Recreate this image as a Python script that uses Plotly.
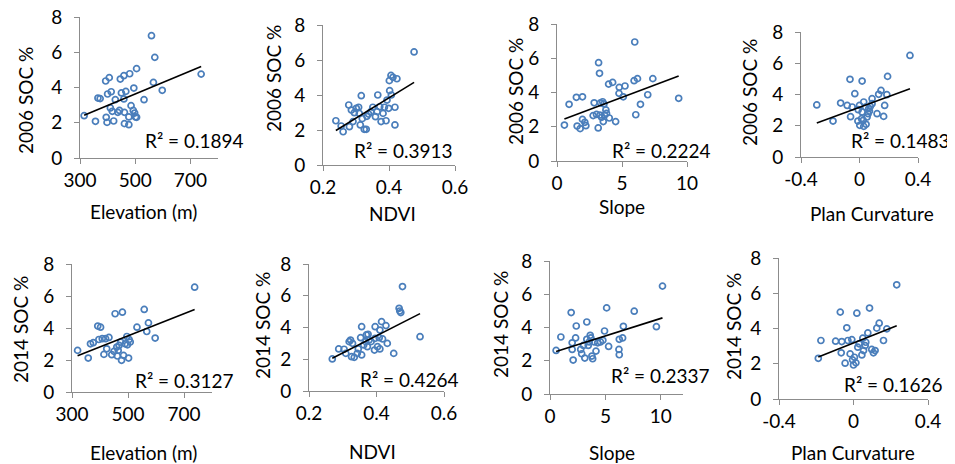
import numpy as np
import plotly.graph_objects as go

# ---- data ----
elev_2006 = [315, 356, 365, 373, 393, 406, 395, 398, 400, 413, 410, 417, 422, 428, 437, 443,
             446, 459, 450, 466, 459, 461, 461, 477, 477, 480, 485, 493, 495, 498, 501, 505,
             505, 532, 559, 566, 571, 598, 739]
soc06_elev = [2.40, 2.08, 3.40, 3.37, 4.37, 4.56, 2.31, 2.02, 3.63, 3.76, 2.84, 2.65, 2.10, 3.31,
              2.59, 2.70, 4.48, 4.67, 3.69, 3.78, 3.35, 2.59, 1.95, 2.33, 1.89, 4.78, 2.97, 2.70,
              3.97, 2.55, 2.33, 5.07, 2.31, 3.31, 6.94, 4.29, 5.71, 3.84, 4.76]

ndvi_2006 = [0.239, 0.255, 0.261, 0.278, 0.280, 0.286, 0.291, 0.295, 0.301, 0.308, 0.310, 0.313,
             0.316, 0.319, 0.325, 0.331, 0.333, 0.338, 0.345, 0.351, 0.359, 0.364, 0.366, 0.372,
             0.376, 0.382, 0.386, 0.391, 0.394, 0.399, 0.402, 0.401, 0.406, 0.412, 0.407, 0.418,
             0.418, 0.424, 0.476]
soc06_ndvi = [2.53, 2.23, 1.90, 3.43, 2.19, 3.14, 2.48, 2.99, 3.24, 3.30, 2.95, 2.29, 3.96, 2.65,
              2.04, 2.04, 2.78, 2.91, 3.05, 3.30, 2.76, 3.05, 4.00, 3.33, 2.48, 2.95, 3.30, 2.53,
              3.71, 3.24, 4.25, 4.82, 5.12, 5.01, 4.00, 3.30, 2.29, 4.93, 6.46]

slope_2006 = [0.57, 0.93, 1.49, 1.55, 1.78, 1.96, 1.96, 2.14, 2.22, 2.78, 2.86, 3.04, 3.17, 3.20,
              3.27, 3.30, 3.35, 3.43, 3.51, 3.56, 3.61, 3.66, 3.76, 3.81, 4.02, 3.97, 4.28, 4.51,
              4.77, 4.79, 5.10, 5.23, 5.93, 5.98, 6.06, 6.19, 6.42, 6.98, 7.37, 9.36]
soc06_slope = [2.10, 3.31, 3.72, 2.04, 1.89, 3.75, 2.43, 2.26, 2.06, 2.65, 3.40, 2.72, 1.93, 5.74,
               5.12, 2.68, 3.40, 2.55, 3.46, 2.30, 3.33, 2.68, 2.98, 2.78, 2.51, 4.49, 4.59, 2.30,
               3.95, 4.30, 3.75, 4.38, 4.69, 6.95, 2.70, 4.81, 3.31, 3.87, 4.81, 3.66]

curv_2006 = [-0.292, -0.181, -0.129, -0.084, -0.065, -0.061, -0.050, -0.032, -0.009, 0.000,
             -0.011, 0.002, 0.018, 0.018, 0.025, 0.029, 0.045, 0.052, 0.059, 0.063, 0.068, 0.074,
             0.086, 0.086, 0.120, 0.131, 0.147, 0.165, 0.172, 0.187, 0.192, 0.345, 0.041, 0.029,
             0.014]
soc06_curv = [3.33, 2.30, 3.45, 3.30, 4.97, 2.58, 3.20, 4.05, 3.03, 3.30, 2.30, 2.03, 4.86, 2.88,
              2.35, 1.96, 2.09, 2.56, 2.77, 3.09, 2.94, 3.24, 3.41, 3.73, 2.77, 4.01, 4.26, 2.60,
              3.30, 3.99, 5.16, 6.50, 3.20, 3.52, 2.45]

elev_2014 = [320, 358, 366, 376, 392, 402, 396, 408, 414, 420, 424, 432, 442, 450, 454, 460, 462,
             465, 468, 477, 480, 484, 490, 496, 498, 502, 504, 508, 532, 558, 567, 573, 597, 738,
             474]
soc14_elev = [2.60, 2.12, 3.01, 3.08, 4.12, 4.05, 3.28, 3.33, 2.35, 3.33, 2.70, 3.41, 2.33, 2.54,
              4.89, 2.81, 2.25, 2.60, 2.91, 1.98, 4.99, 2.29, 3.01, 3.47, 2.95, 2.12, 3.28, 3.12,
              4.05, 5.16, 3.78, 4.32, 3.37, 6.55, 3.12]

ndvi_2014 = [0.269, 0.288, 0.304, 0.309, 0.319, 0.323, 0.326, 0.329, 0.334, 0.343, 0.346, 0.353,
             0.356, 0.356, 0.362, 0.368, 0.370, 0.375, 0.373, 0.378, 0.384, 0.394, 0.396, 0.403,
             0.408, 0.410, 0.410, 0.415, 0.418, 0.428, 0.432, 0.451, 0.467, 0.469, 0.472, 0.477,
             0.529, 0.396]
soc14_ndvi = [2.02, 2.65, 2.63, 2.37, 3.11, 3.21, 2.16, 3.00, 2.12, 2.37, 2.65, 3.36, 4.05, 2.27,
              2.90, 3.11, 3.53, 3.57, 2.79, 3.21, 3.11, 2.58, 4.05, 2.79, 3.36, 2.65, 3.84, 4.37,
              3.28, 4.12, 3.00, 2.37, 5.21, 5.04, 4.94, 6.58, 3.42, 3.32]

slope_2014 = [0.55, 0.98, 1.91, 2.00, 2.00, 2.09, 2.31, 2.37, 2.77, 2.86, 3.02, 3.14, 3.32, 3.32,
              3.45, 3.54, 3.63, 3.69, 3.78, 3.85, 4.15, 4.31, 4.55, 4.77, 4.92, 5.11, 5.29, 6.22,
              6.25, 6.25, 6.55, 6.62, 7.60, 9.60, 10.15, 4.00]
soc14_slope = [2.62, 3.43, 4.90, 3.08, 2.68, 2.04, 3.37, 4.09, 2.68, 2.42, 2.92, 2.16, 4.33, 3.29,
               2.92, 3.13, 3.53, 3.37, 2.28, 2.12, 2.58, 3.08, 3.13, 3.23, 3.79, 5.18, 2.86, 2.68,
               2.36, 3.29, 3.37, 4.07, 4.98, 4.05, 6.49, 3.13]

curv_2014 = [-0.189, -0.175, -0.096, -0.071, -0.066, -0.063, -0.045, -0.036, -0.030, -0.018,
             -0.009, -0.005, 0.000, 0.005, 0.013, 0.018, 0.023, 0.030, 0.045, 0.050, 0.054, 0.063,
             0.066, 0.077, 0.086, 0.098, 0.107, 0.125, 0.138, 0.161, 0.179, 0.232, 0.116]
soc14_curv = [2.31, 3.32, 3.28, 4.93, 2.62, 3.26, 2.03, 4.04, 3.32, 2.56, 3.37, 2.22, 1.93, 2.37,
              2.05, 4.87, 2.94, 3.13, 2.50, 3.45, 2.75, 3.03, 3.22, 3.75, 5.16, 2.81, 2.62, 4.02,
              4.30, 3.32, 3.98, 6.48, 2.75]

r2_labels = ["R² = 0.1894", "R² = 0.3913", "R² = 0.2224", "R² = 0.1483",
             "R² = 0.3127", "R² = 0.4264", "R² = 0.2337", "R² = 0.1626"]
x_titles = ["Elevation (m)", "NDVI", "Slope", "Plan Curvature"] * 2
y_titles = ["2006 SOC %"] * 4 + ["2014 SOC %"] * 4

# the page body has an 8px margin, so the figure is drawn 8px in from the corner
OFF = 8
W, H = 955 - OFF, 464 - OFF
FONT = "Lato"
FS = 19
AX = "#8c8c8c"
BLUE = "#4a7ebb"


def px(x):
    return (x - OFF) / W


def py(y):
    return 1 - (y - OFF) / H


# panel boxes in window pixels: left, right, top(y=8), bottom(y=0)
boxes = [(80, 218, 17, 158), (323, 455, 25, 165), (557, 687, 24, 161), (801, 918, 32, 157),
         (72, 212, 264, 392), (309, 444, 264, 391), (550, 683, 261, 394), (779, 928, 258, 399)]
x_ranges = [[300, 800], [0.2, 0.6], [0, 10], [-0.4, 0.4],
            [300, 800], [0.2, 0.6], [0, 12], [-0.4, 0.4]]
x_ticks = [[300, 500, 700], [0.2, 0.4, 0.6], [0, 5, 10], [-0.4, 0, 0.4]] * 2
x_ticktext = [["300", "500", "700"], ["0.2", "0.4", "0.6"], ["0", "5", "10"], ["-0.4", "0", "0.4"]] * 2
# axis title positions (window pixels)
xt_pos = [(143, 211), (392, 213), (622, 206), (872, 213),
          (143, 452), (372, 451), (612, 452), (853, 452)]
yt_pos = [(25, 101), (273, 79), (515, 92), (750, 93),
          (20, 330), (262, 326), (500, 325), (733, 327)]
r2_pos = [(143, 140), (352, 150), (610, 150), (849, 140),
          (133, 380), (358, 379), (609, 375), (842, 384)]

xs = [elev_2006, ndvi_2006, slope_2006, curv_2006, elev_2014, ndvi_2014, slope_2014, curv_2014]
ys = [soc06_elev, soc06_ndvi, soc06_slope, soc06_curv, soc14_elev, soc14_ndvi, soc14_slope, soc14_curv]

fig = go.Figure()
annotations = []
for i in range(8):
    n = i + 1
    xa = "x" if n == 1 else f"x{n}"
    ya = "y" if n == 1 else f"y{n}"
    x = np.array(xs[i])
    y = np.array(ys[i])
    fig.add_trace(go.Scatter(x=x, y=y, mode="markers", xaxis=xa, yaxis=ya,
                             marker=dict(symbol="circle-open", size=6, color=BLUE,
                                         line=dict(width=1.7, color=BLUE))))
    # linear trendline, like the spreadsheet's
    k, b = np.polyfit(x, y, 1)
    lx = np.array([x.min(), x.max()])
    fig.add_trace(go.Scatter(x=lx, y=k * lx + b, mode="lines", xaxis=xa, yaxis=ya,
                             line=dict(color="black", width=1.6)))
    l, r, t, btm = boxes[i]
    common = dict(showline=True, linecolor=AX, linewidth=1, ticks="outside", ticklen=5,
                  tickcolor=AX, showgrid=False, zeroline=False, automargin=False,
                  ticklabeloverflow="allow",
                  tickfont=dict(family=FONT, size=FS, color="black"))
    fig.layout[f"xaxis{n}"] = dict(domain=[px(l), px(r)], anchor=ya, range=x_ranges[i],
                                   tickvals=x_ticks[i], ticktext=x_ticktext[i], **common)
    fig.layout[f"yaxis{n}"] = dict(domain=[py(btm), py(t)], anchor=xa, range=[0, 8],
                                   tickvals=[0, 2, 4, 6, 8], ticklabelstandoff=8, **common)
    annotations.append(dict(x=px(xt_pos[i][0]), y=py(xt_pos[i][1]), xref="paper", yref="paper",
                            text=x_titles[i], showarrow=False, xanchor="center", yanchor="middle",
                            font=dict(family=FONT, size=FS, color="black")))
    annotations.append(dict(x=px(yt_pos[i][0]), y=py(yt_pos[i][1]), xref="paper", yref="paper",
                            text=y_titles[i], showarrow=False, textangle=-90,
                            xanchor="center", yanchor="middle",
                            font=dict(family=FONT, size=FS, color="black")))
    annotations.append(dict(x=px(r2_pos[i][0]), y=py(r2_pos[i][1]), xref="paper", yref="paper",
                            text=r2_labels[i], showarrow=False, xanchor="left", yanchor="middle",
                            font=dict(family=FONT, size=FS, color="black")))

fig.update_layout(width=W, height=H, margin=dict(l=0, r=0, t=0, b=0, autoexpand=False),
                  paper_bgcolor="white", plot_bgcolor="white", showlegend=False,
                  annotations=annotations)
fig.write_html("out.html")
